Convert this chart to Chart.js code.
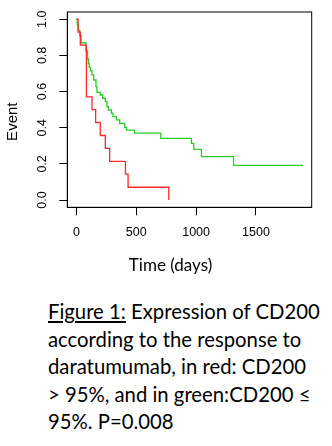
<!DOCTYPE html>
<html>
<head>
<meta charset="utf-8">
<script src="https://cdn.jsdelivr.net/npm/chart.js@4/dist/chart.umd.min.js"></script>
<style>
  html, body { margin: 0; padding: 0; background: #fff; }
  body { width: 332px; height: 446px; position: relative; overflow: hidden; }
  #km { position: absolute; left: 0; top: 0; }
  .caption {
    position: absolute;
    left: 48px;
    top: 298px;
    font-family: "Lato", "Open Sans", sans-serif;
    font-size: 20.3px;
    line-height: 27.5px;
    color: #000;
    white-space: nowrap;
  }
  .caption u { text-underline-offset: 2px; }
</style>
</head>
<body>
<canvas id="km" width="332" height="285"></canvas>
<div class="caption">
  <u>Figure 1:</u> Expression of CD200<br>
  according to the response to<br>
  daratumumab, in red: CD200<br>
  &gt; 95%, and in green:CD200 ≤<br>
  95%. P=0.008
</div>
<script>
// Kaplan-Meier steps (time in days, survival after the step)
const redDays = [0, 14, 33, 84, 131, 161, 200, 242, 278, 410, 432, 772];
const redSurv = [1, 0.929, 0.857, 0.571, 0.5, 0.429, 0.357, 0.286, 0.214, 0.143, 0.071, 0];

const greenDays = [0, 8, 18, 28, 40, 80, 94, 100, 108, 118, 130, 145, 164, 172, 200, 220, 242, 256, 268, 293, 306, 334, 362, 404, 418, 487, 705, 961, 981, 1045, 1313, 1895];
const greenSurv = [1, 0.97, 0.94, 0.91, 0.87, 0.826, 0.78, 0.755, 0.734, 0.715, 0.692, 0.664, 0.627, 0.596, 0.581, 0.563, 0.544, 0.516, 0.498, 0.48, 0.461, 0.443, 0.424, 0.402, 0.387, 0.37, 0.341, 0.314, 0.28, 0.24, 0.192, 0.192];

const xTicks = [0, 500, 1000, 1500];
const yTicks = [0, 0.2, 0.4, 0.6, 0.8, 1.0];
const xTitle = "Time (days)";
const yTitle = "Event";

document.addEventListener("DOMContentLoaded", () => {
  const toPoints = (xs, ys) => xs.map((x, i) => ({ x: x, y: ys[i] }));

  // R style box, rotated y labels and axis titles
  const rPlot = {
    id: "rPlot",
    afterDraw(chart) {
      const { ctx, chartArea } = chart;
      const yScale = chart.scales.y;
      ctx.save();
      ctx.strokeStyle = "#000";
      ctx.lineWidth = 1;
      ctx.strokeRect(chartArea.left, chartArea.top, chartArea.right - chartArea.left, chartArea.bottom - chartArea.top);

      ctx.fillStyle = "#000";
      ctx.font = "12.5px 'Liberation Sans', Arial, sans-serif";
      ctx.textAlign = "center";
      ctx.textBaseline = "middle";
      yTicks.forEach((v) => {
        const py = yScale.getPixelForValue(v);
        ctx.save();
        ctx.translate(chartArea.left - 25, py);
        ctx.rotate(-Math.PI / 2);
        ctx.fillText(v.toFixed(1), 0, 0);
        ctx.restore();
      });

      ctx.font = "15px 'Liberation Sans', Arial, sans-serif";
      ctx.save();
      ctx.translate(12.5, 121.7);
      ctx.rotate(-Math.PI / 2);
      ctx.fillText(yTitle, 0, 0);
      ctx.restore();

      ctx.font = "17px Lato, 'Open Sans', sans-serif";
      ctx.fillText(xTitle, 170.5, 265.5);
      ctx.restore();
    },
  };

  new Chart(document.getElementById("km"), {
    type: "scatter",
    data: {
      datasets: [
        {
          label: "CD200 > 95%",
          data: toPoints(redDays, redSurv),
          showLine: true,
          stepped: "before",
          borderColor: "rgb(255, 40, 40)",
          borderWidth: 1.3,
          pointRadius: 0,
          fill: false,
        },
        {
          label: "CD200 ≤ 95%",
          data: toPoints(greenDays, greenSurv),
          showLine: true,
          stepped: "before",
          borderColor: "rgb(40, 205, 40)",
          borderWidth: 1.3,
          pointRadius: 0,
          fill: false,
        },
      ],
    },
    options: {
      responsive: false,
      animation: false,
      layout: { padding: { top: 12, right: 20.3, left: 0, bottom: 0 } },
      plugins: {
        legend: { display: false },
        tooltip: { enabled: false },
      },
      scales: {
        x: {
          type: "linear",
          min: -75.6,
          max: 1965.6,
          afterBuildTicks: (scale) => {
            scale.ticks = xTicks.map((v) => ({ value: v }));
          },
          afterFit: (scale) => {
            scale.height = 77.7;
          },
          grid: {
            drawOnChartArea: false,
            drawTicks: true,
            tickLength: 8,
            tickColor: "#000",
          },
          border: { display: true, color: "#000" },
          ticks: {
            color: "#000",
            padding: 10,
            maxRotation: 0,
            callback: (value) => String(value),
            font: { family: "'Liberation Sans', Arial, sans-serif", size: 12.5 },
          },
        },
        y: {
          type: "linear",
          min: -0.04,
          max: 1.04,
          afterBuildTicks: (scale) => {
            scale.ticks = yTicks.map((v) => ({ value: v }));
          },
          afterFit: (scale) => {
            scale.width = 67.3;
          },
          grid: {
            drawOnChartArea: false,
            drawTicks: true,
            tickLength: 8,
            tickColor: "#000",
          },
          border: { display: true, color: "#000" },
          // labels are drawn rotated by the rPlot plugin
          ticks: { display: true, color: "rgba(0,0,0,0)" },
        },
      },
    },
    plugins: [rPlot],
  });
});
</script>
</body>
</html>
